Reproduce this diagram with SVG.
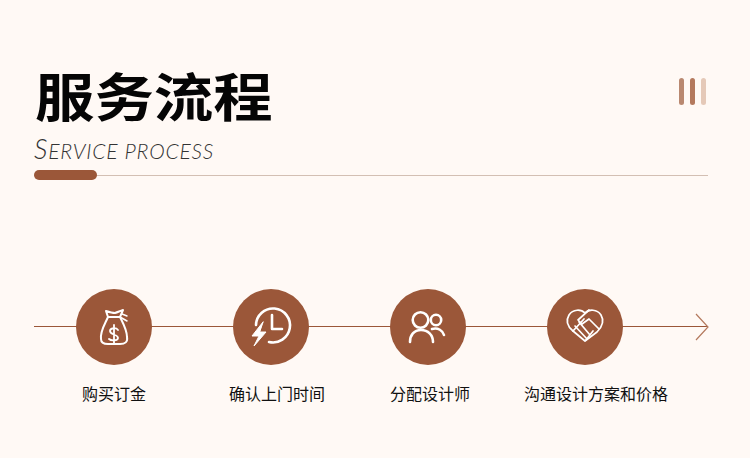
<svg xmlns="http://www.w3.org/2000/svg" width="750" height="458" viewBox="0 0 750 458">
<style>
.c{fill:#9b5739}
.i{fill:none;stroke:#fff;stroke-width:2;stroke-linecap:round;stroke-linejoin:round}
.l{font:16px "Noto Sans CJK SC","Noto Sans",sans-serif;fill:#111;text-anchor:middle}
.s{font-family:Lato,sans-serif;font-style:italic;font-weight:300;fill:#333}
</style>
<rect width="750" height="458" fill="#fff9f5"/>
<g id="header">
<text transform="translate(35 116.500) scale(1.1 .96)" font-family="'Noto Sans CJK SC',sans-serif" font-weight="700" font-size="54" fill="#050505">服务流程</text>
<text class="s" x="34" y="159" font-size="21" letter-spacing="0.8"><tspan font-size="27">S</tspan>ERVICE PROCESS</text>
<rect x="34" y="175" width="674" height="1" fill="#d3bfb3"/>
<rect x="34" y="170" width="63" height="10" rx="5" class="c"/>
<rect x="679" y="78" width="5" height="27" rx="2.500" fill="#b98870"/>
<rect x="690" y="78" width="5" height="27" rx="2.500" fill="#b4795d"/>
<rect x="701" y="78" width="5" height="27" rx="2.500" fill="#e5c9b8"/>
</g>
<g id="connectors" fill="none" stroke="#9b5739">
<path d="M34 326.500H707"/>
<path d="M696 314L708 327L696 340" stroke="#b4795d" stroke-width="1.200"/>
</g>
<g id="node1">
<circle class="c" cx="114" cy="327" r="38"/>
<g class="i">
<path d="M106 311C109 312 112 313 115 313C118 312 120 311 123 310L120 317H108Z"/>
<path d="M108 317C105 324 100 331 101 339C101 343 104 344 108 344H120C125 344 128 342 127 337C127 330 123 323 120 317"/>
<path d="M120 317L127 321M122 314L127 316" stroke-width="1.500"/>
<path d="M118 330C116 327 110 328 110 331C110 335 118 334 118 338C118 341 111 341 109 339M114 325V343" stroke-width="1.800"/>
</g>
</g>
<g id="node2">
<circle class="c" cx="271" cy="327" r="38"/>
<g class="i">
<path d="M256 325A17 17 0 1 1 269 342" stroke-width="2.600"/>
<path d="M272 315V329H282" stroke-width="2.600"/>
<path d="M263 322L252 336H259L254 346L266 332H260Z" fill="#fff" stroke-width="1"/>
</g>
</g>
<g id="node3">
<circle class="c" cx="428" cy="327" r="38"/>
<g class="i">
<circle cx="420.500" cy="320" r="7.800" stroke-width="2.600"/>
<path d="M410 342C410 335 414 330 421 330C428 330 433 335 433 342" stroke-width="2.600"/>
<circle cx="436" cy="320" r="5.200" stroke-width="2.600"/>
<path d="M432 329C438 327 443 331 444 335" stroke-width="2.600"/>
</g>
</g>
<g id="node4">
<circle class="c" cx="585" cy="327" r="38"/>
<g class="i" style="stroke-width:1.700">
<path d="M573 331C567 326 566 320 569 315C573 309 581 309 585 313C589 309 597 309 601 315C604 320 603 326 597 332L585 341Z"/>
<path d="M589 310L578 320L582 324L589 319L599 329"/>
<path d="M573 331L584 319"/>
<path d="M575 326L587 339M579 322L590 335M593 331L586 340"/>
</g>
</g>
<g id="labels">
<text class="l" x="114" y="400">购买订金</text>
<text class="l" x="277" y="400">确认上门时间</text>
<text class="l" x="430" y="400">分配设计师</text>
<text class="l" x="596" y="400">沟通设计方案和价格</text>
</g>
</svg>
